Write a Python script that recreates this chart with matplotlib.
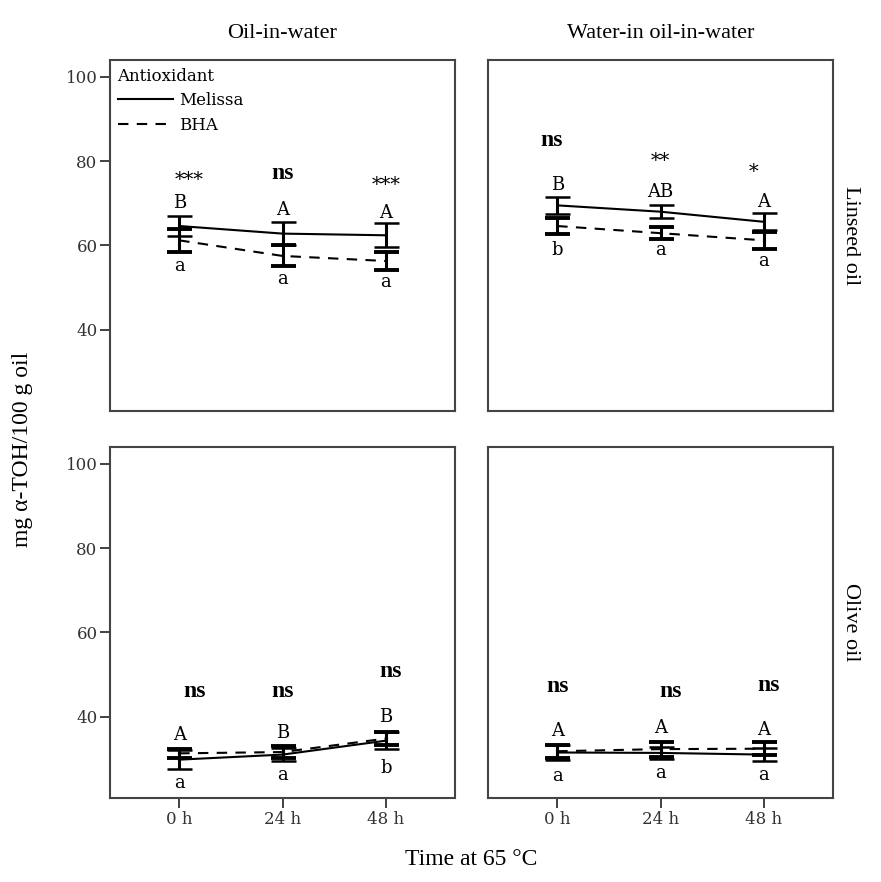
import matplotlib
matplotlib.use("Agg")
import matplotlib.pyplot as plt
from matplotlib.lines import Line2D
import numpy as np

# time points and panel layout
times = ['0 h', '24 h', '48 h']
emulsions = ['Oil-in-water', 'Water-in oil-in-water']
oils = ['Linseed oil', 'Olive oil']

# means and error bar half-widths, per panel (oil, emulsion)
melissa_mean = {
    ('Linseed oil', 'Oil-in-water'): [64.6, 62.8, 62.4],
    ('Linseed oil', 'Water-in oil-in-water'): [69.5, 68.0, 65.6],
    ('Olive oil', 'Oil-in-water'): [29.8, 31.0, 34.3],
    ('Olive oil', 'Water-in oil-in-water'): [31.5, 31.4, 31.0],
}
melissa_err = {
    ('Linseed oil', 'Oil-in-water'): [2.3, 2.8, 2.8],
    ('Linseed oil', 'Water-in oil-in-water'): [2.0, 1.6, 2.0],
    ('Olive oil', 'Oil-in-water'): [2.3, 1.5, 2.0],
    ('Olive oil', 'Water-in oil-in-water'): [1.8, 1.5, 1.5],
}
bha_mean = {
    ('Linseed oil', 'Oil-in-water'): [61.2, 57.5, 56.3],
    ('Linseed oil', 'Water-in oil-in-water'): [64.6, 62.9, 61.2],
    ('Olive oil', 'Oil-in-water'): [31.3, 31.6, 34.8],
    ('Olive oil', 'Water-in oil-in-water'): [31.8, 32.3, 32.4],
}
bha_err = {
    ('Linseed oil', 'Oil-in-water'): [2.8, 2.5, 2.1],
    ('Linseed oil', 'Water-in oil-in-water'): [1.8, 1.4, 2.0],
    ('Olive oil', 'Oil-in-water'): [1.0, 1.5, 1.5],
    ('Olive oil', 'Water-in oil-in-water'): [1.5, 1.8, 1.5],
}

# annotations: significance, Melissa letter, BHA letter and their heights
sig_text = {
    ('Linseed oil', 'Oil-in-water'): ['***', 'ns', '***'],
    ('Linseed oil', 'Water-in oil-in-water'): ['ns', '**', '*'],
    ('Olive oil', 'Oil-in-water'): ['ns', 'ns', 'ns'],
    ('Olive oil', 'Water-in oil-in-water'): ['ns', 'ns', 'ns'],
}
sig_y = {
    ('Linseed oil', 'Oil-in-water'): [75.5, 77.1, 74.3],
    ('Linseed oil', 'Water-in oil-in-water'): [85.0, 80.0, 77.5],
    ('Olive oil', 'Oil-in-water'): [46.0, 46.0, 50.7],
    ('Olive oil', 'Water-in oil-in-water'): [47.1, 46.0, 47.5],
}
upper_letters = {
    ('Linseed oil', 'Oil-in-water'): ['B', 'A', 'A'],
    ('Linseed oil', 'Water-in oil-in-water'): ['B', 'AB', 'A'],
    ('Olive oil', 'Oil-in-water'): ['A', 'B', 'B'],
    ('Olive oil', 'Water-in oil-in-water'): ['A', 'A', 'A'],
}
upper_y = {
    ('Linseed oil', 'Oil-in-water'): [70.0, 68.3, 67.6],
    ('Linseed oil', 'Water-in oil-in-water'): [74.3, 72.6, 70.2],
    ('Olive oil', 'Oil-in-water'): [35.7, 36.2, 40.0],
    ('Olive oil', 'Water-in oil-in-water'): [36.5, 37.3, 36.9],
}
lower_letters = {
    ('Linseed oil', 'Oil-in-water'): ['a', 'a', 'a'],
    ('Linseed oil', 'Water-in oil-in-water'): ['b', 'a', 'a'],
    ('Olive oil', 'Oil-in-water'): ['a', 'a', 'b'],
    ('Olive oil', 'Water-in oil-in-water'): ['a', 'a', 'a'],
}
lower_y = {
    ('Linseed oil', 'Oil-in-water'): [55.2, 52.1, 51.2],
    ('Linseed oil', 'Water-in oil-in-water'): [58.8, 58.8, 56.4],
    ('Olive oil', 'Oil-in-water'): [24.3, 26.2, 27.9],
    ('Olive oil', 'Water-in oil-in-water'): [25.9, 26.7, 26.2],
}
sig_dx = {
    ('Linseed oil', 'Oil-in-water'): [0.1, 0.0, 0.0],
    ('Linseed oil', 'Water-in oil-in-water'): [-0.05, 0.0, -0.1],
    ('Olive oil', 'Oil-in-water'): [0.15, 0.0, 0.05],
    ('Olive oil', 'Water-in oil-in-water'): [0.0, 0.1, 0.05],
}

slab = ['DejaVu Serif']
serif = ['Liberation Serif']

fig = plt.figure(figsize=(8.81, 8.82), dpi=100)

lefts = [110 / 881, 488 / 881]
bottoms = [1 - 411 / 882, 1 - 798 / 882]
w = 345 / 881
h = 351 / 882
x = np.arange(len(times))

for r, oil in enumerate(oils):
    for c, emu in enumerate(emulsions):
        key = (oil, emu)
        ax = fig.add_axes([lefts[c], bottoms[r], w, h])
        ax.errorbar(x, melissa_mean[key], yerr=melissa_err[key], color='black',
                    lw=1.5, ls='-', elinewidth=2.2, capsize=9, capthick=1.8)
        ax.errorbar(x, bha_mean[key], yerr=bha_err[key], color='black',
                    lw=1.5, ls=(0, (5, 4)), elinewidth=2.2, capsize=9,
                    capthick=2.8)
        for i in range(len(times)):
            ns = sig_text[key][i] == 'ns'
            ax.text(x[i] + sig_dx[key][i], sig_y[key][i], sig_text[key][i],
                    ha='center', va='center', family=serif if ns else slab,
                    fontsize=17 if ns else 14, fontweight='bold' if ns else 'normal')
            ax.text(x[i], upper_y[key][i], upper_letters[key][i], ha='center',
                    va='center', family=slab, fontsize=13)
            ax.text(x[i], lower_y[key][i], lower_letters[key][i], ha='center',
                    va='center', family=slab, fontsize=13)
        ax.set_xlim(-0.67, 2.67)
        ax.set_ylim(20.7, 104)
        ax.set_xticks(x)
        ax.set_yticks([40, 60, 80, 100])
        ax.tick_params(direction='out', length=7, width=1.3, labelsize=12,
                       colors='#333333', pad=2)
        for lab in ax.get_xticklabels() + ax.get_yticklabels():
            lab.set_family(slab)
        if r == 0:
            ax.set_xticks([])
            ax.set_title(emu, family=serif, fontsize=16, pad=16)
        else:
            ax.set_xticklabels(times)
        if c == 1:
            ax.set_yticks([])
            ax.text(1.05, 0.5, oil, transform=ax.transAxes, rotation=-90,
                    ha='center', va='center', family=serif, fontsize=16)
        for s in ax.spines.values():
            s.set_linewidth(1.5)
            s.set_color('#444444')
        if r == 0 and c == 0:
            handles = [Line2D([], [], color='black', lw=1.5, ls='-'),
                       Line2D([], [], color='black', lw=1.5, ls=(0, (5, 4)))]
            leg = ax.legend(handles, ['Melissa', 'BHA'], title='Antioxidant',
                            loc='upper left', frameon=False,
                            prop={'family': slab, 'size': 12}, handlelength=3.3,
                            borderaxespad=0.35, labelspacing=0.45,
                            handletextpad=0.4, borderpad=0.1)
            leg.get_title().set_family(slab)
            leg.get_title().set_fontsize(12)
            leg._legend_box.align = 'left'

fig.text(0.025, 0.49, 'mg α-TOH/100 g oil', rotation=90, ha='center',
         va='center', family=serif, fontsize=17)
fig.text(0.535, 0.025, 'Time at 65 °C', ha='center', va='center',
         family=serif, fontsize=17)

fig.savefig('out.png', dpi=100)
